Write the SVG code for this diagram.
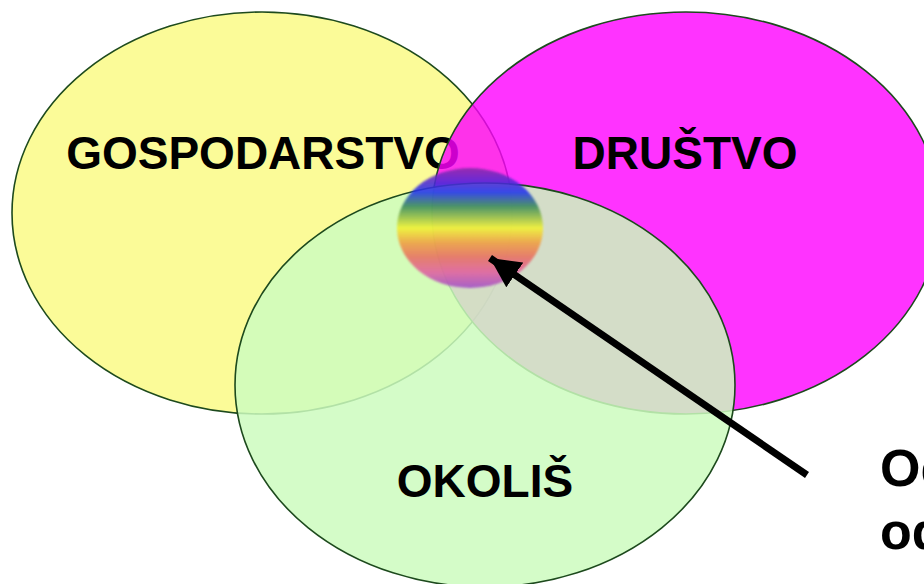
<svg xmlns="http://www.w3.org/2000/svg" width="924" height="584" viewBox="0 0 924 584">
<style>
.lbl{font-family:"Liberation Sans",Arial,sans-serif;font-weight:bold;font-size:46px;fill:#000;text-anchor:middle}
.side{font-family:"Liberation Sans",Arial,sans-serif;font-weight:bold;font-size:52px;fill:#000}
.edge{stroke:#1d4a1d;stroke-width:1.6}
</style>
<defs>
<linearGradient id="rb" x1="0" y1="0" x2="0" y2="1">
<stop offset="0" stop-color="#8a2aa8"/>
<stop offset="0.1" stop-color="#5a2ad0"/>
<stop offset="0.2" stop-color="#2233ee"/>
<stop offset="0.32" stop-color="#3a8a5a"/>
<stop offset="0.5" stop-color="#f2f232"/>
<stop offset="0.62" stop-color="#f0a040"/>
<stop offset="0.74" stop-color="#e87060"/>
<stop offset="0.87" stop-color="#e060a0"/>
<stop offset="1" stop-color="#a050c8"/>
</linearGradient>
<filter id="soft" x="-10%" y="-10%" width="120%" height="120%"><feGaussianBlur stdDeviation="1.2"/></filter>
<marker id="ah" markerUnits="userSpaceOnUse" markerWidth="34" markerHeight="30" refX="30" refY="15" orient="auto" viewBox="0 0 34 30">
<path d="M0,0 L30,15 L0,30 Z" fill="#000"/>
</marker>
</defs>
<g id="gospodarstvo">
<ellipse cx="262" cy="213" rx="250" ry="201" fill="#fbfb98" class="edge"/>
<text x="263" y="169" class="lbl">GOSPODARSTVO</text>
</g>
<g id="drustvo">
<ellipse cx="686" cy="213" rx="254" ry="201" fill="#ff00ff" fill-opacity="0.8" class="edge"/>
<text x="685" y="169" class="lbl">DRUŠTVO</text>
</g>
<g id="okolis">
<ellipse cx="485" cy="385" rx="250" ry="202" fill="#cdfcbe" fill-opacity="0.85" class="edge"/>
<text x="485" y="497" class="lbl">OKOLIŠ</text>
</g>
<g id="odrzivi-razvoj">
<ellipse cx="470" cy="228" rx="73" ry="60" fill="url(#rb)" opacity="0.88" filter="url(#soft)"/>
</g>
<g id="connectors">
<line x1="807" y1="475" x2="490" y2="258" stroke="#000" stroke-width="7" marker-end="url(#ah)"/>
</g>
<g id="note">
<text x="880" y="486" class="side">Održivi razvoj</text>
<text x="880" y="549" class="side">održivost</text>
</g>
</svg>
